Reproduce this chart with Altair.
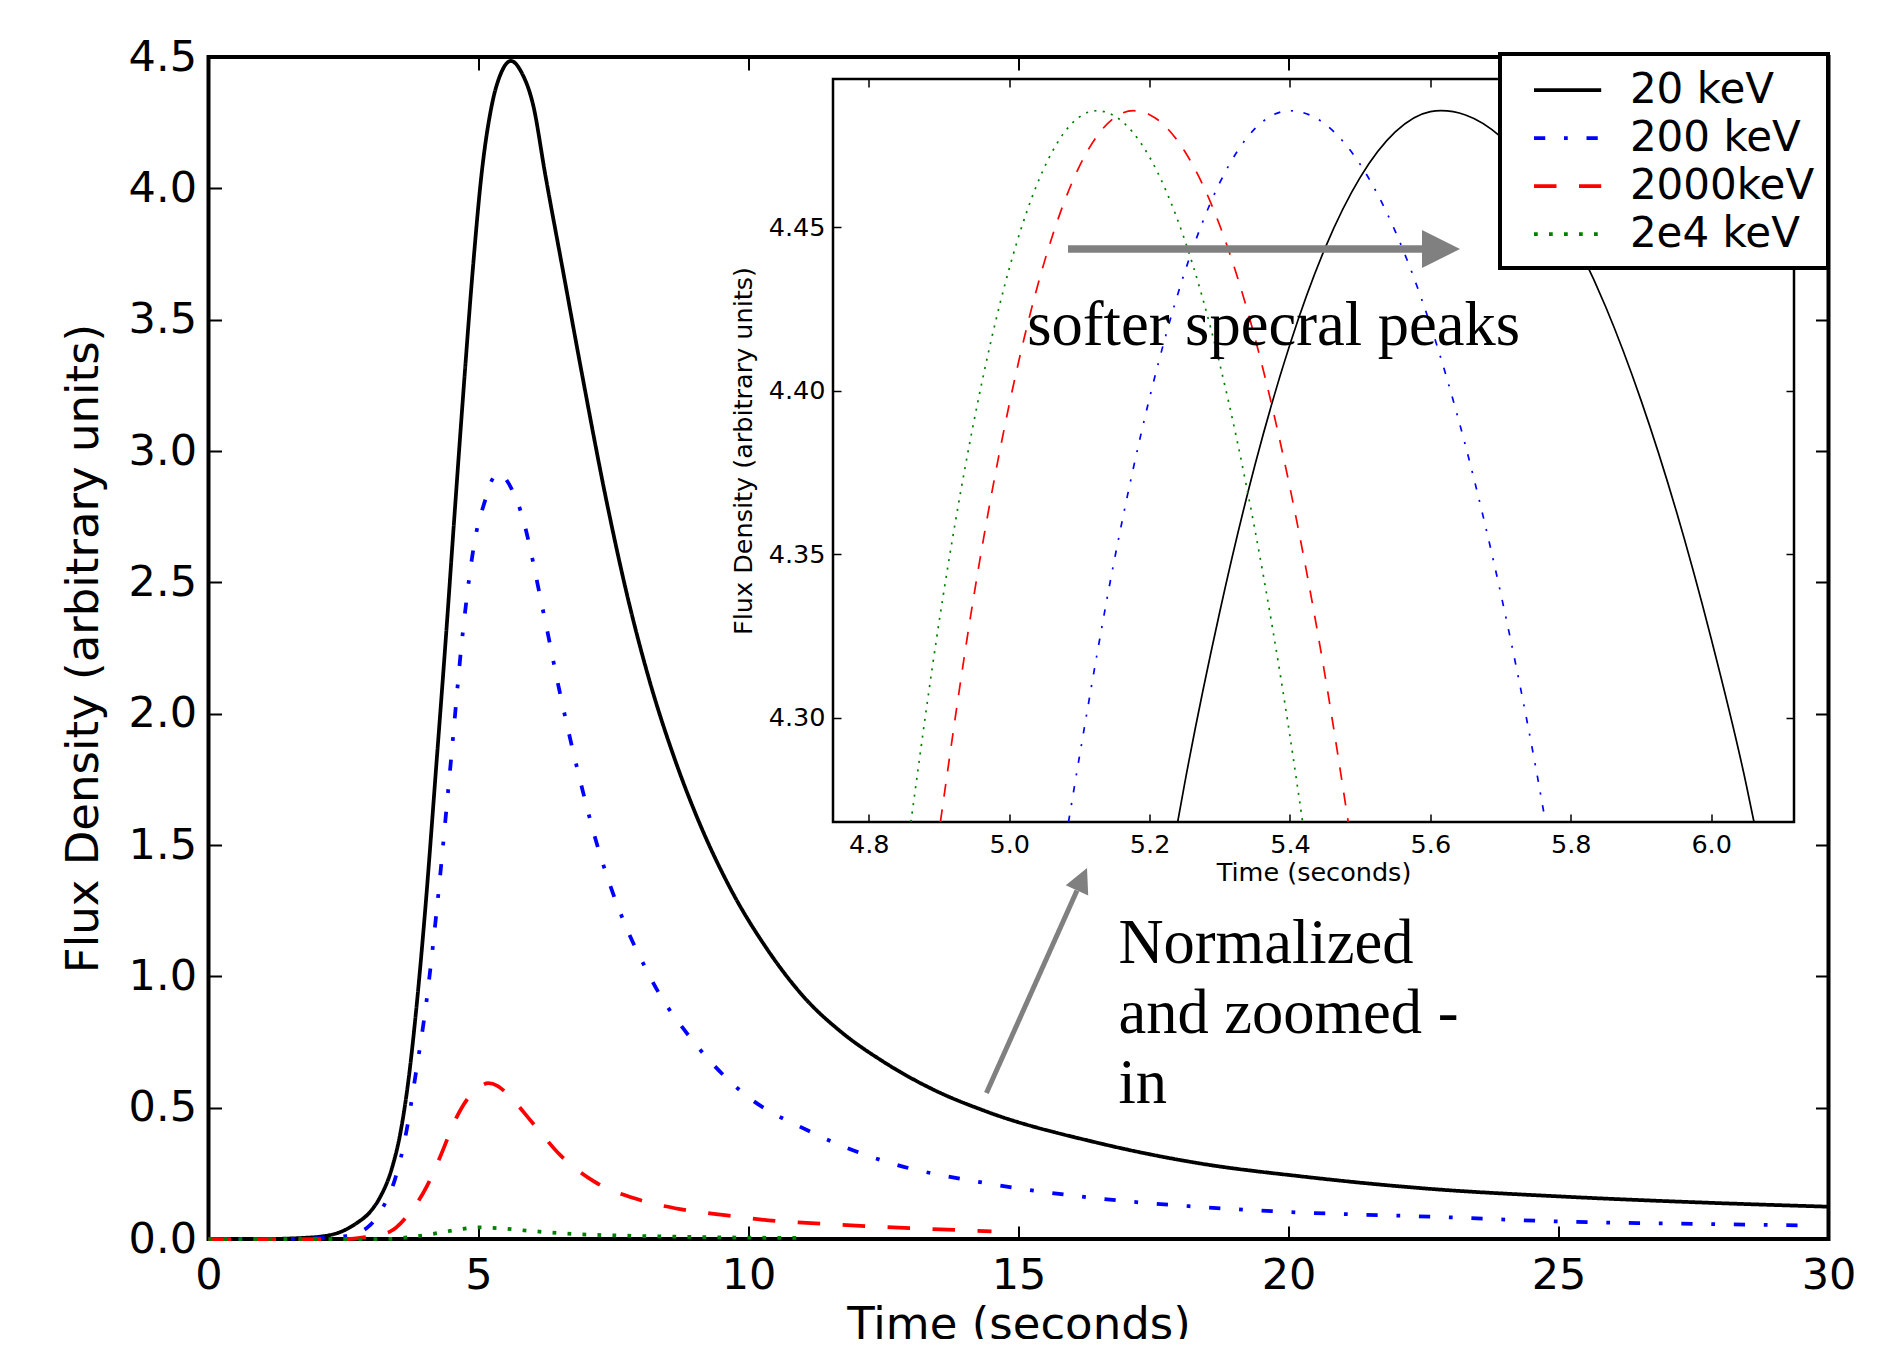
import altair as alt
import pandas as pd

# ---------------- data ----------------
names = ["20 keV", "200 keV", "2000keV", "2e4 keV"]
colors = ["#000000", "#0000ff", "#ff0000", "#008000"]

# main panel
t_20 = [0.0, 1.0, 1.73, 2.25, 2.74, 3.00, 3.18, 3.39, 3.55, 3.70, 3.85, 4.02, 4.21, 4.41, 4.55, 4.74,
        4.89, 5.06, 5.24, 5.42, 5.60, 5.80, 6.02, 6.23, 6.57, 6.91, 7.40, 7.77, 8.18, 8.61, 9.04, 9.66,
        10.34, 11.08, 11.70, 12.49, 13.40, 14.41, 16.45, 18.44, 20.21, 22.49, 25.13, 27.78, 30.0]
f_20 = [0.0, 0.0, 0.004, 0.015, 0.060, 0.105, 0.160, 0.265, 0.400, 0.600, 0.880, 1.27, 1.78, 2.33, 2.74, 3.28,
        3.68, 4.06, 4.31, 4.44, 4.485, 4.44, 4.31, 4.06, 3.68, 3.30, 2.78, 2.436, 2.116, 1.841, 1.609, 1.336,
        1.105, 0.909, 0.791, 0.676, 0.571, 0.485, 0.367, 0.285, 0.239, 0.193, 0.161, 0.138, 0.123]

t_200 = [0.0, 1.5, 2.56, 2.96, 3.27, 3.45, 3.67, 3.82, 4.04, 4.22, 4.48, 4.71, 4.95, 5.12, 5.25,
         5.38, 5.50, 5.61, 5.77, 6.20, 6.51, 6.82, 7.19, 7.68, 8.08, 8.33, 8.86, 9.87, 11.16, 12.49,
         14.47, 16.45, 18.44, 20.21, 22.62, 25.13, 27.78, 29.5]
f_200 = [0.0, 0.0, 0.011, 0.047, 0.136, 0.225, 0.415, 0.605, 0.91, 1.24, 1.80, 2.31, 2.68, 2.81, 2.89,
         2.915, 2.895, 2.857, 2.778, 2.388, 2.077, 1.798, 1.506, 1.214, 1.037, 0.940, 0.783, 0.561, 0.407, 0.298,
         0.210, 0.155, 0.121, 0.101, 0.085, 0.066, 0.057, 0.052]

t_2000 = [0.0, 2.56, 2.87, 3.36, 3.67, 4.04, 4.29, 4.60, 4.78, 5.00, 5.18, 5.35, 5.52, 6.01, 6.51,
          7.13, 7.93, 8.73, 9.60, 10.24, 11.82, 13.15, 14.5]
f_2000 = [0.0, 0.0, 0.006, 0.028, 0.085, 0.199, 0.313, 0.466, 0.529, 0.575, 0.593, 0.583, 0.555, 0.440, 0.320,
          0.220, 0.152, 0.114, 0.090, 0.074, 0.053, 0.040, 0.029]

t_2e4 = [0.0, 3.30, 3.67, 4.23, 4.60, 5.03, 5.45, 5.89, 6.88, 8.11, 9.60, 11.0]
f_2e4 = [0.0, 0.0, 0.006, 0.022, 0.035, 0.044, 0.040, 0.032, 0.018, 0.011, 0.006, 0.004]

# inset (normalized, zoomed)
ti_20 = [5.240, 5.25, 5.30, 5.35, 5.40, 5.45, 5.50, 5.55, 5.60, 5.615, 5.65, 5.70, 5.75, 5.80, 5.85,
         5.90, 5.95, 6.00, 6.05, 6.061]
fi_20 = [4.2681, 4.2799, 4.3324, 4.3772, 4.4142, 4.4436, 4.4652, 4.4791, 4.4853, 4.4856, 4.4843, 4.4777,
         4.4658, 4.4483, 4.4255, 4.3971, 4.3634, 4.3242, 4.2795, 4.2681]
ti_200 = [5.0845, 5.10, 5.15, 5.20, 5.25, 5.30, 5.35, 5.40, 5.45, 5.50, 5.55, 5.60, 5.65, 5.70, 5.75, 5.764]
fi_200 = [4.2681, 4.2880, 4.3484, 4.3978, 4.4362, 4.4636, 4.4801, 4.4856, 4.4815, 4.4692, 4.4487, 4.4201,
          4.3832, 4.3382, 4.2849, 4.2681]
ti_2000 = [4.902, 4.95, 5.00, 5.05, 5.10, 5.15, 5.177, 5.20, 5.25, 5.30, 5.35, 5.40, 5.45, 5.483]
fi_2000 = [4.2681, 4.3377, 4.3957, 4.4393, 4.4686, 4.4835, 4.4856, 4.4844, 4.4732, 4.4505, 4.4162, 4.3703,
           4.3128, 4.2681]
ti_2e4 = [4.860, 4.90, 4.95, 5.00, 5.05, 5.10, 5.125, 5.15, 5.20, 5.25, 5.30, 5.35, 5.40, 5.418]
fi_2e4 = [4.2681, 4.3291, 4.3909, 4.4373, 4.4682, 4.4837, 4.4856, 4.4840, 4.4714, 4.4461, 4.4081, 4.3575,
          4.2943, 4.2681]

# tick values
x_ticks = [0, 5, 10, 15, 20, 25, 30]
y_ticks = [0.0, 0.5, 1.0, 1.5, 2.0, 2.5, 3.0, 3.5, 4.0, 4.5]
xi_ticks = [4.8, 5.0, 5.2, 5.4, 5.6, 5.8, 6.0]
yi_ticks = [4.30, 4.35, 4.40, 4.45]

# domains
x_dom = [0, 30]
y_dom = [0, 4.5]
xi_dom = [4.749, 6.118]
yi_dom = [4.2681, 4.4953]

# annotations (in main-axis data units)
note_text = ["softer specral peaks", "Normalized", "and zoomed -", "in"]
note_t = [15.161, 16.850, 16.850, 16.850]
note_f = [3.402, 1.0496, 0.7839, 0.5166]

arrow_t = [15.917, 14.406]
arrow_f = [3.769, 0.556]
arrow_t2 = [22.472, 16.083]
arrow_f2 = [3.769, 1.327]
head_t = [22.824, 16.176]
head_f = [3.769, 1.370]
head_angle = [0, 294.1]

# ---------------- layout / styles ----------------
W, H = 1620, 1182
xi_range = [624.5, 1585.5]
yi_range = [765, 22]

main_dash = [[1, 0], [11.25, 18.75, 3.75, 18.75], [22.5, 22.5], [3.75, 11.25]]
ins_dash = [None, [6.4, 10.7, 2.1, 10.7], [12.8, 12.8], [2.1, 6.4]]

main_df = pd.concat([
    pd.DataFrame({"t": t, "f": f, "series": n})
    for t, f, n in zip([t_20, t_200, t_2000, t_2e4], [f_20, f_200, f_2000, f_2e4], names)
], ignore_index=True)

ins_sets = [(ti_20, fi_20), (ti_200, fi_200), (ti_2000, fi_2000), (ti_2e4, fi_2e4)]


def sx():
    return alt.Scale(domain=x_dom, nice=False, zero=False)


def sy():
    return alt.Scale(domain=y_dom, nice=False, zero=False)


def sxi():
    return alt.Scale(domain=xi_dom, range=xi_range, nice=False, zero=False)


def syi():
    return alt.Scale(domain=yi_dom, range=yi_range, nice=False, zero=False)


AX = dict(grid=False, domain=False, tickColor="black", labelColor="black", titleColor="black",
          labelFont="DejaVu Sans", titleFont="DejaVu Sans", titleFontWeight="normal",
          labelFlush=False, labelOverlap=False)

main_bottom = alt.Axis(orient="bottom", values=x_ticks, format="d", offset=-13, tickSize=13, tickWidth=2,
                       labelFontSize=43, labelPadding=15, title="Time (seconds)", titleFontSize=45,
                       titleBaseline="alphabetic", titleY=112, titleX=810, **AX)
main_left = alt.Axis(orient="left", values=y_ticks, format=".1f", offset=-13, tickSize=13, tickWidth=2,
                     labelFontSize=43, labelPadding=12, title="Flux Density (arbitrary units)",
                     titleFontSize=45, titleAngle=270, titleBaseline="alphabetic", titleAlign="center",
                     titleX=-124.5, titleY=591, **AX)
main_top = alt.Axis(orient="top", values=x_ticks, offset=-13, tickSize=13, tickWidth=2, labels=False,
                    title=None, **AX)
main_right = alt.Axis(orient="right", values=y_ticks, offset=-13, tickSize=13, tickWidth=2, labels=False,
                      title=None, **AX)

ins_bottom = alt.Axis(orient="bottom", values=xi_ticks, format=".1f", offset=-425, tickSize=8, tickWidth=1.5,
                      labelFontSize=25.5, labelPadding=10, title="Time (seconds)", titleFontSize=25.5,
                      titleBaseline="alphabetic", titleY=66, titleX=1105, zindex=1, **AX)
ins_left = alt.Axis(orient="left", values=yi_ticks, format=".2f", offset=-632.5, tickSize=8, tickWidth=1.5,
                    labelFontSize=25.5, labelPadding=8, title="Flux Density (arbitrary units)",
                    titleFontSize=25.5, titleAngle=270, titleBaseline="alphabetic", titleAlign="center",
                    titleX=-89.6, titleY=393.5, zindex=1, **AX)
ins_top = alt.Axis(orient="top", values=xi_ticks, offset=-30, tickSize=8, tickWidth=1.5, labels=False,
                   title=None, zindex=1, **AX)
ins_right = alt.Axis(orient="right", values=yi_ticks, offset=-42.5, tickSize=8, tickWidth=1.5, labels=False,
                     title=None, zindex=1, **AX)

LEG = dict(orient="none", legendX=1291.5, legendY=-3, title=None, labelFontSize=42, labelFont="DejaVu Sans",
           labelColor="black", labelLimit=500, symbolType="M-1.6,0L1.6,0", symbolSize=1764,
           symbolStrokeWidth=3.75, strokeColor="black", fillColor="white", padding=13, rowPadding=4,
           symbolOffset=31.6, labelOffset=39.3, cornerRadius=0, zindex=2)

# ---------------- layers ----------------
main_lines = alt.Chart(main_df).mark_line(strokeWidth=3.75, interpolate="monotone").encode(
    x=alt.X("t:Q", scale=sx(), axis=main_bottom),
    y=alt.Y("f:Q", scale=sy(), axis=main_left),
    color=alt.Color("series:N", scale=alt.Scale(domain=names, range=colors), legend=alt.Legend(**LEG)),
    strokeDash=alt.StrokeDash("series:N", scale=alt.Scale(domain=names, range=main_dash),
                              legend=alt.Legend(**LEG)),
)

frame_df = pd.DataFrame({"x0": [xi_dom[0]], "x1": [xi_dom[1]], "y0": [yi_dom[0]], "y1": [yi_dom[1]]})
inset_frame = alt.Chart(frame_df).mark_rect(fill="white", stroke="black", strokeWidth=2.5).encode(
    x=alt.X("x0:Q", scale=sxi(), axis=ins_bottom),
    x2="x1:Q",
    y=alt.Y("y0:Q", scale=syi(), axis=ins_left),
    y2="y1:Q",
)

inset_layers = []
for i, ((tt, ff), col, dash) in enumerate(zip(ins_sets, colors, ins_dash)):
    kw = dict(color=col, strokeWidth=1.7, interpolate="monotone")
    if dash is not None:
        kw["strokeDash"] = dash
    inset_layers.append(
        alt.Chart(pd.DataFrame({"t": tt, "f": ff})).mark_line(**kw).encode(
            x=alt.X("t:Q", scale=sxi(), axis=ins_top if i == 0 else None),
            y=alt.Y("f:Q", scale=syi(), axis=ins_right if i == 0 else None),
        )
    )

notes_df = pd.DataFrame({"t": note_t, "f": note_f, "label": note_text})
notes = alt.Chart(notes_df).mark_text(font="Liberation Serif", fontSize=62.5, align="left",
                                      baseline="alphabetic", color="black").encode(
    x=alt.X("t:Q", scale=sx(), axis=main_top),
    y=alt.Y("f:Q", scale=sy(), axis=main_right),
    text="label:N",
)

shaft_df = pd.DataFrame({"t": arrow_t, "f": arrow_f, "t2": arrow_t2, "f2": arrow_f2, "w": [7.5, 5.0]})
shafts = alt.Chart(shaft_df).mark_rule(color="#808080").encode(
    x=alt.X("t:Q", scale=sx(), axis=None),
    y=alt.Y("f:Q", scale=sy(), axis=None),
    x2="t2:Q",
    y2="f2:Q",
    strokeWidth=alt.StrokeWidth("w:Q", scale=None),
)

head_df = pd.DataFrame({"t": head_t, "f": head_f, "ang": head_angle, "sz": [1444, 605]})
heads = alt.Chart(head_df).mark_point(shape="M-1,-1L1,0L-1,1Z", filled=True, color="#808080",
                                      opacity=1, strokeWidth=0).encode(
    x=alt.X("t:Q", scale=sx(), axis=None),
    y=alt.Y("f:Q", scale=sy(), axis=None),
    angle=alt.Angle("ang:Q", scale=None),
    size=alt.Size("sz:Q", scale=None),
)

chart = alt.layer(main_lines, inset_frame, *inset_layers, notes, shafts, heads).resolve_scale(
    x="independent", y="independent"
).resolve_axis(
    x="independent", y="independent"
).properties(
    width=W, height=H,
    autosize=alt.AutoSizeParams(type="none"),
    padding={"left": 200.5, "top": 49, "right": 64.5, "bottom": 100},
    background="white",
).configure_view(
    stroke="black", strokeWidth=4
).configure_legend(
    strokeWidth=4
)

chart.save("out.html", embed_options={"renderer": "svg", "actions": False})
